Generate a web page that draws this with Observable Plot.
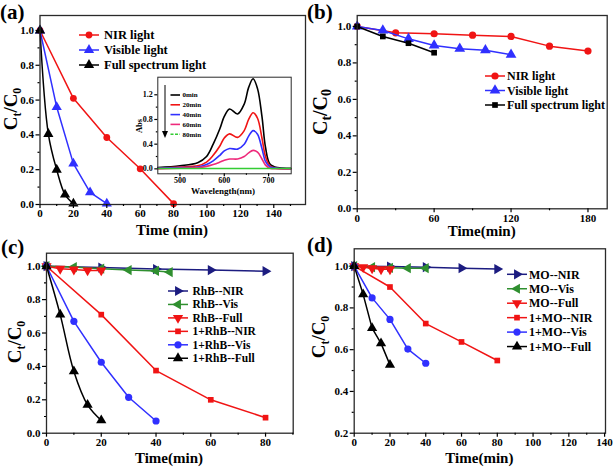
<!DOCTYPE html>
<html><head><meta charset="utf-8">
<script src="https://cdn.jsdelivr.net/npm/d3@7"></script>
<script src="https://cdn.jsdelivr.net/npm/@observablehq/plot@0.6"></script>
<style>
body{margin:0;background:#fff;}
#root{position:relative;width:615px;height:467px;overflow:hidden;background:#fff;}
</style></head><body><div id="root"></div>
<script>
// ---------- Panel (a) ----------
const aNames = ["NIR light", "Visible light", "Full spectrum light"];
const aTimeNIR = [0, 20, 40, 60, 80];
const aValNIR = [1.0, 0.61, 0.385, 0.205, 0.005];
const aTimeVis = [0, 10, 20, 30, 40];
const aValVis = [1.0, 0.56, 0.235, 0.07, 0.005];
const aTimeFull = [0, 5, 10, 15, 20];
const aValFull = [1.0, 0.405, 0.2, 0.057, 0.005];
const aXTicks = [0, 20, 40, 60, 80, 100, 120, 140];
const aYTicks = [0, 0.2, 0.4, 0.6, 0.8, 1.0];

// ---------- Inset of (a) ----------
const insetNames = ["0min", "20min", "40min", "60min", "80min"];
const wavelength = [450, 500, 540, 560, 575, 590, 600, 612, 630, 645, 655, 665, 675, 685, 693, 703, 720, 750];
const abs0min  = [0.02, 0.05, 0.10, 0.20, 0.40, 0.65, 0.85, 0.97, 0.89, 1.05, 1.32, 1.46, 1.30, 0.85, 0.35, 0.08, 0.02, 0.01];
const abs20min = [0.01, 0.03, 0.05, 0.11, 0.22, 0.37, 0.50, 0.567, 0.51, 0.62, 0.80, 0.91, 0.82, 0.50, 0.20, 0.05, 0.01, 0.0];
const abs40min = [0.01, 0.02, 0.03, 0.07, 0.13, 0.22, 0.29, 0.33, 0.32, 0.40, 0.53, 0.62, 0.56, 0.33, 0.12, 0.03, 0.01, 0.0];
const abs60min = [0.0, 0.01, 0.02, 0.04, 0.07, 0.11, 0.14, 0.16, 0.16, 0.20, 0.26, 0.30, 0.27, 0.16, 0.06, 0.01, 0.0, 0.0];
const abs80min = [0.005, 0.005, 0.005, 0.005, 0.005, 0.005, 0.005, 0.005, 0.005, 0.005, 0.005, 0.005, 0.005, 0.005, 0.005, 0.005, 0.005, 0.005];
const insetXTicks = [500, 600, 700];
const insetYTicks = [0, 0.4, 0.8, 1.2];

// ---------- Panel (b) ----------
const bNames = ["NIR light", "Visible light", "Full spectrum light"];
const bTimeNIR = [0, 30, 60, 90, 120, 150, 180];
const bValNIR = [1.0, 0.965, 0.96, 0.952, 0.945, 0.892, 0.865];
const bTimeVis = [0, 20, 40, 60, 80, 100, 120];
const bValVis = [1.0, 0.978, 0.932, 0.896, 0.878, 0.87, 0.845];
const bTimeFull = [0, 20, 40, 60];
const bValFull = [1.0, 0.945, 0.908, 0.856];
const bXTicks = [0, 60, 120, 180];
const bYTicks = [0, 0.2, 0.4, 0.6, 0.8, 1.0];

// ---------- Panel (c) ----------
const cNames = ["RhB--NIR", "RhB--Vis", "RhB--Full", "1+RhB--NIR", "1+RhB--Vis", "1+RhB--Full"];
const cTimeRhBNIR = [0, 20, 40, 60, 80];
const cValRhBNIR = [1.0, 0.992, 0.983, 0.977, 0.97];
const cTimeRhBVis = [0, 10, 20, 30, 40, 45];
const cValRhBVis = [1.0, 0.995, 0.985, 0.977, 0.972, 0.965];
const cTimeRhBFull = [0, 5, 10, 15, 20];
const cValRhBFull = [1.0, 0.985, 0.98, 0.975, 0.975];
const cTime1NIR = [0, 20, 40, 60, 80];
const cVal1NIR = [1.0, 0.71, 0.375, 0.2, 0.093];
const cTime1Vis = [0, 10, 20, 30, 40];
const cVal1Vis = [1.0, 0.67, 0.425, 0.215, 0.073];
const cTime1Full = [0, 5, 10, 15, 20];
const cVal1Full = [1.0, 0.71, 0.37, 0.17, 0.077];
const cXTicks = [0, 20, 40, 60, 80];
const cYTicks = [0, 0.2, 0.4, 0.6, 0.8, 1.0];

// ---------- Panel (d) ----------
const dNames = ["MO--NIR", "MO--Vis", "MO--Full", "1+MO--NIR", "1+MO--Vis", "1+MO--Full"];
const dTimeMONIR = [0, 20, 40, 60, 80];
const dValMONIR = [1.0, 0.998, 0.995, 0.99, 0.986];
const dTimeMOVis = [0, 10, 20, 30, 40];
const dValMOVis = [1.0, 0.995, 0.992, 0.99, 0.99];
const dTimeMOFull = [0, 5, 10, 15, 20];
const dValMOFull = [1.0, 0.995, 0.99, 0.985, 0.985];
const dTime1NIR = [0, 20, 40, 60, 80];
const dVal1NIR = [1.0, 0.9, 0.725, 0.637, 0.548];
const dTime1Vis = [0, 10, 20, 30, 40];
const dVal1Vis = [1.0, 0.848, 0.745, 0.603, 0.535];
const dTime1Full = [0, 5, 10, 15, 20];
const dVal1Full = [1.0, 0.865, 0.703, 0.63, 0.527];
const dXTicks = [0, 20, 40, 60, 80, 100, 120, 140];
const dYTicks = [0.2, 0.4, 0.6, 0.8, 1.0];

// ---------- styling ----------
const RED = "#f01414", BLUE = "#3030ff", BLACK = "#000000", NAVY = "#1c1c80",
      GREEN = "#2f8f2f", PINK = "#ee2a7b", LGREEN = "#33cc33";
const FONT = "'Liberation Serif', 'Times New Roman', serif";
const root = document.getElementById("root");

function rows(xs, ys) { return xs.map((x, i) => ({x, y: ys[i]})); }
function minorBetween(ticks, extra) {
  const out = [];
  for (let i = 0; i + 1 < ticks.length; i++) out.push((ticks[i] + ticks[i + 1]) / 2);
  if (extra != null) out.push(extra);
  return out;
}

function panel(cfg) {
  const marks = [];
  if (cfg.bg) marks.push(Plot.frame({fill: cfg.bg, stroke: null}));
  for (const s of cfg.series) {
    const data = rows(s.xs, s.ys);
    marks.push(Plot.line(data, {x: "x", y: "y", stroke: s.color, strokeWidth: cfg.lw ?? 1.5, curve: s.curve ?? "linear"}));
    if (s.symbol) marks.push(Plot.dot(data, {x: "x", y: "y", fill: s.color, symbol: s.symbol, r: s.r ?? 3.6, rotate: s.rotate ?? 0}));
  }
  marks.push(Plot.frame({stroke: "#2a2a2a", strokeWidth: cfg.frameW ?? 1.3}));
  const tl = cfg.tickLen ?? 4;
  marks.push(Plot.axisX({ticks: cfg.xTicks, tickSize: tl, tickPadding: 1, tickFormat: d => String(d), fontSize: cfg.tickFont, fontWeight: "bold", label: null, strokeWidth: 1.2}));
  marks.push(Plot.axisX({ticks: cfg.xMinor, tickSize: tl / 2, tickFormat: () => "", label: null, strokeWidth: 1.2}));
  marks.push(Plot.axisY({ticks: cfg.yTicks, tickSize: tl, tickPadding: 2, tickFormat: cfg.yFormat, fontSize: cfg.tickFont, fontWeight: "bold", label: null, strokeWidth: 1.2}));
  marks.push(Plot.axisY({ticks: cfg.yMinor, tickSize: tl / 2, tickFormat: () => "", label: null, strokeWidth: 1.2}));
  const svg = Plot.plot({
    width: cfg.width, height: cfg.height,
    marginLeft: cfg.m[3], marginRight: cfg.m[1], marginTop: cfg.m[0], marginBottom: cfg.m[2],
    x: {domain: cfg.xDomain}, y: {domain: cfg.yDomain},
    style: {fontFamily: FONT, background: "transparent", overflow: "visible", color: "#000"},
    marks
  });
  svg.style.position = "absolute";
  svg.style.left = cfg.left + "px";
  svg.style.top = cfg.top + "px";
  svg.style.maxWidth = "none";
  root.appendChild(svg);
  return svg;
}

function text(svg, str, x, y, size, opts = {}) {
  return d3.select(svg).append("text")
    .attr("x", x).attr("y", y)
    .attr("font-family", FONT).attr("font-weight", "bold").attr("font-size", size)
    .attr("text-anchor", opts.anchor ?? "start")
    .attr("fill", "#000")
    .text(str);
}

function yLabelC(svg, x, y, size, subScale = 0.62) {
  const t = d3.select(svg).append("text")
    .attr("transform", `translate(${x},${y}) rotate(-90)`)
    .attr("text-anchor", "middle")
    .attr("font-family", FONT).attr("font-weight", "bold").attr("font-size", size).attr("fill", "#000");
  t.append("tspan").text("C");
  t.append("tspan").attr("font-size", size * subScale).attr("dy", size * 0.22).text("t");
  t.append("tspan").attr("dy", -size * 0.22).text("/C");
  t.append("tspan").attr("font-size", size * subScale).attr("dy", size * 0.22).text("0");
}

function symPath(symbol, r) {
  const types = {circle: d3.symbolCircle, triangle: d3.symbolTriangle, square: d3.symbolSquare};
  return d3.symbol().type(types[symbol]).size(Math.PI * r * r)();
}

function legend(svg, items, o) {
  const g = d3.select(svg).append("g").attr("text-anchor", "start");
  items.forEach((it, i) => {
    const y = o.y + i * o.dy;
    g.append("line").attr("x1", o.x).attr("x2", o.x + o.len).attr("y1", y).attr("y2", y)
      .attr("stroke", it.color).attr("stroke-width", o.lw ?? 1.5)
      .attr("stroke-dasharray", it.dash ?? null);
    if (it.symbol) {
      g.append("path").attr("d", symPath(it.symbol, it.r ?? 3.6))
        .attr("transform", `translate(${o.x + o.len / 2},${y}) rotate(${it.rotate ?? 0})`)
        .attr("fill", it.color);
    }
    g.append("text").attr("x", o.tx).attr("y", y).attr("dy", "0.35em")
      .attr("text-anchor", "start")
      .attr("font-family", FONT).attr("font-weight", "bold").attr("font-size", o.size)
      .attr("fill", "#000").text(it.name);
  });
}

const fmt1 = d3.format(".1f");

// ===== Panel (a) =====
const aSeries = [
  {name: aNames[0], xs: aTimeNIR, ys: aValNIR, color: RED, symbol: "circle", r: 3.4},
  {name: aNames[1], xs: aTimeVis, ys: aValVis, color: BLUE, symbol: "triangle", r: 3.8},
  {name: aNames[2], xs: aTimeFull, ys: aValFull, color: BLACK, symbol: "triangle", r: 3.8, curve: "catmull-rom"}
];
const svgA = panel({
  left: 0, top: 0, width: 310, height: 240, m: [15, 5, 36, 39.5],
  xDomain: [0, 159], yDomain: [0, 1.086],
  xTicks: aXTicks, xMinor: minorBetween(aXTicks, 150),
  yTicks: aYTicks, yMinor: minorBetween(aYTicks), yFormat: fmt1, tickFont: 11,
  series: aSeries
});
text(svgA, "(a)", 0, 19, 21);
yLabelC(svgA, 17, 109, 19);
text(svgA, "Time (min)", 172, 235, 15, {anchor: "middle"});
legend(svgA, aSeries, {x: 79, len: 20, tx: 104, y: 35, dy: 15, size: 12.5});

// ===== Inset =====
const insetSeries = [
  {name: insetNames[0], xs: wavelength, ys: abs0min, color: BLACK, curve: "catmull-rom"},
  {name: insetNames[1], xs: wavelength, ys: abs20min, color: RED, curve: "catmull-rom"},
  {name: insetNames[2], xs: wavelength, ys: abs40min, color: BLUE, curve: "catmull-rom"},
  {name: insetNames[3], xs: wavelength, ys: abs60min, color: PINK, curve: "catmull-rom"},
  {name: insetNames[4], xs: wavelength, ys: abs80min, color: LGREEN, curve: "catmull-rom", dash: "3,1.5"}
];
const svgI = panel({
  left: 130, top: 70, width: 165, height: 126, m: [6.7, 4.3, 22.7, 27.3],
  xDomain: [450, 751], yDomain: [-0.08, 1.485],
  xTicks: insetXTicks, xMinor: [550, 650],
  yTicks: insetYTicks, yMinor: minorBetween(insetYTicks), yFormat: fmt1, tickFont: 8,
  tickLen: 3, lw: 1.6, frameW: 1, bg: "white",
  series: insetSeries
});
text(svgI, "Wavelength(nm)", 93, 124, 9, {anchor: "middle"});
d3.select(svgI).append("text")
  .attr("transform", "translate(12,56) rotate(-90)").attr("text-anchor", "middle")
  .attr("font-family", FONT).attr("font-weight", "bold").attr("font-size", 8.5).text("Abs");
legend(svgI, insetSeries, {x: 40.5, len: 9.5, tx: 52.5, y: 25, dy: 9.8, size: 7, lw: 1.6});
d3.select(svgI).append("line").attr("x1", 35).attr("x2", 35).attr("y1", 15).attr("y2", 63)
  .attr("stroke", "#000").attr("stroke-width", 1);
d3.select(svgI).append("path").attr("d", "M32,61 L38,61 L35,68 Z").attr("fill", "#000");

// ===== Panel (b) =====
const bSeries = [
  {name: bNames[0], xs: bTimeNIR, ys: bValNIR, color: RED, symbol: "circle", r: 3.6},
  {name: bNames[1], xs: bTimeVis, ys: bValVis, color: BLUE, symbol: "triangle", r: 4},
  {name: bNames[2], xs: bTimeFull, ys: bValFull, color: BLACK, symbol: "square", r: 3.2}
];
const svgB = panel({
  left: 305, top: 0, width: 310, height: 240, m: [15, 8.3, 31.7, 51.7],
  xDomain: [0, 195], yDomain: [0, 1.06],
  xTicks: bXTicks, xMinor: minorBetween(bXTicks), yTicks: bYTicks, yMinor: minorBetween(bYTicks),
  yFormat: fmt1, tickFont: 11,
  series: bSeries
});
text(svgB, "(b)", 2, 19, 21);
yLabelC(svgB, 22, 112, 20, 0.7);
text(svgB, "Time(min)", 176.7, 236, 15, {anchor: "middle"});
legend(svgB, bSeries, {x: 180, len: 20, tx: 202, y: 76, dy: 14.5, size: 12});

// ===== Panel (c) =====
const cSeries = [
  {name: cNames[0], xs: cTimeRhBNIR, ys: cValRhBNIR, color: NAVY, symbol: "triangle", rotate: 90, r: 3.8},
  {name: cNames[1], xs: cTimeRhBVis, ys: cValRhBVis, color: GREEN, symbol: "triangle", rotate: -90, r: 3.8},
  {name: cNames[2], xs: cTimeRhBFull, ys: cValRhBFull, color: RED, symbol: "triangle", rotate: 180, r: 3.8},
  {name: cNames[3], xs: cTime1NIR, ys: cVal1NIR, color: RED, symbol: "square", r: 3.2},
  {name: cNames[4], xs: cTime1Vis, ys: cVal1Vis, color: BLUE, symbol: "circle", r: 3.6},
  {name: cNames[5], xs: cTime1Full, ys: cVal1Full, color: BLACK, symbol: "triangle", r: 3.8, curve: "catmull-rom"}
];
const svgC = panel({
  left: 0, top: 230, width: 305, height: 237, m: [22.7, 12.3, 34.3, 46],
  xDomain: [0, 90.1], yDomain: [0, 1.078],
  xTicks: cXTicks, xMinor: minorBetween(cXTicks).concat([90]), yTicks: cYTicks, yMinor: minorBetween(cYTicks),
  yFormat: fmt1, tickFont: 11,
  series: cSeries
});
text(svgC, "(c)", 1, 24, 21);
yLabelC(svgC, 21, 112, 19);
text(svgC, "Time(min)", 169, 233, 15, {anchor: "middle"});
legend(svgC, cSeries, {x: 168, len: 20, tx: 192.5, y: 61, dy: 13.45, size: 11.5});

// ===== Panel (d) =====
const dSeries = [
  {name: dNames[0], xs: dTimeMONIR, ys: dValMONIR, color: NAVY, symbol: "triangle", rotate: 90, r: 3.8},
  {name: dNames[1], xs: dTimeMOVis, ys: dValMOVis, color: GREEN, symbol: "triangle", rotate: -90, r: 3.8},
  {name: dNames[2], xs: dTimeMOFull, ys: dValMOFull, color: RED, symbol: "triangle", rotate: 180, r: 3.8},
  {name: dNames[3], xs: dTime1NIR, ys: dVal1NIR, color: RED, symbol: "square", r: 3.2},
  {name: dNames[4], xs: dTime1Vis, ys: dVal1Vis, color: BLUE, symbol: "circle", r: 3.6},
  {name: dNames[5], xs: dTime1Full, ys: dVal1Full, color: BLACK, symbol: "triangle", r: 3.8}
];
const svgD = panel({
  left: 305, top: 230, width: 310, height: 237, m: [18.3, 10, 34.3, 48.7],
  xDomain: [0, 140.5], yDomain: [0.2, 1.083],
  xTicks: dXTicks, xMinor: minorBetween(dXTicks), yTicks: dYTicks, yMinor: minorBetween(dYTicks),
  yFormat: fmt1, tickFont: 11,
  series: dSeries
});
text(svgD, "(d)", 2, 22, 21);
yLabelC(svgD, 20, 107, 19);
text(svgD, "Time(min)", 174.4, 233, 15, {anchor: "middle"});
legend(svgD, dSeries, {x: 202, len: 20, tx: 224, y: 44.3, dy: 14.45, size: 12});
</script>
</body></html>
